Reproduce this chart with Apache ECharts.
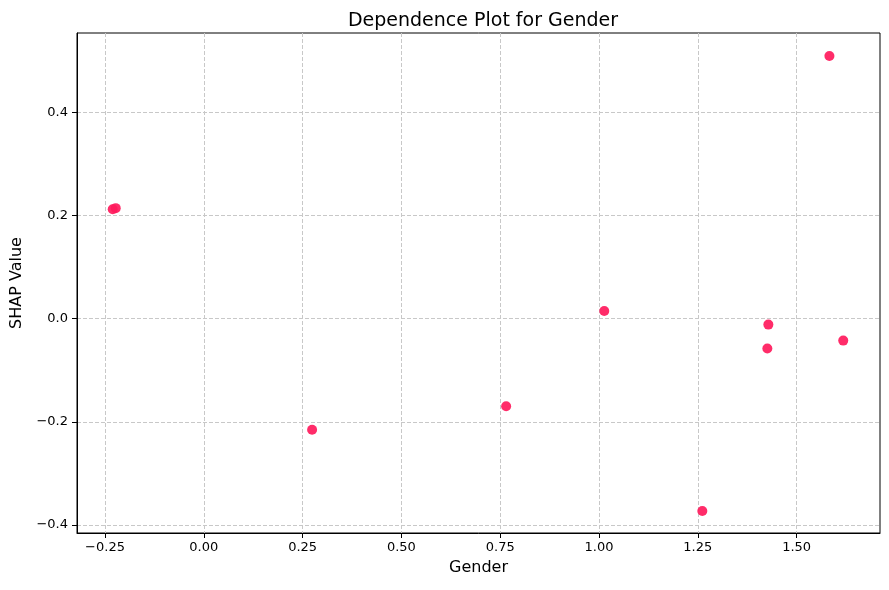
<!DOCTYPE html>
<html>
<head>
<meta charset="utf-8">
<script src="https://cdn.jsdelivr.net/npm/echarts@6/dist/echarts.min.js"></script>
<style>
  html, body { margin: 0; padding: 0; background: #fff; }
  #chart { width: 889px; height: 590px; }
</style>
</head>
<body>
<div id="chart"></div>
<script>
// values
var genderX = [-0.2305, -0.2229, 0.274, 0.765, 1.0133, 1.2614, 1.4259, 1.4285, 1.583, 1.618];
var shapY = [0.212, 0.214, -0.2155, -0.170, 0.0148, -0.3728, -0.058, -0.0117, 0.5087, -0.0427];
var xTicks = [-0.25, 0, 0.25, 0.5, 0.75, 1.0, 1.25, 1.5];
var yTicks = [-0.4, -0.2, 0, 0.2, 0.4];

var pts = [];
for (var i = 0; i < genderX.length; i++) {
    pts.push([genderX[i], shapY[i]]);
}

function fmt(v, d) {
    return v.toFixed(d).replace('-', '\u2212');
}

var font = 'DejaVu Sans';
var chart = echarts.init(document.getElementById('chart'));

var option = {
    backgroundColor: '#fff',
    animation: false,
    title: {
        text: 'Dependence Plot for Gender',
        left: 478,
        textAlign: 'center',
        top: 7,
        textStyle: {fontFamily: font, fontSize: 19, fontWeight: 'normal', color: '#000'}
    },
    grid: {
        left: 77, right: 9, top: 33, bottom: 57,
        show: true, borderColor: '#000', borderWidth: 1,
        containLabel: false
    },
    xAxis: {
        type: 'value',
        min: -0.3209, max: 1.711,
        name: 'Gender',
        nameLocation: 'middle',
        nameGap: 27,
        nameTextStyle: {fontFamily: font, fontSize: 16, color: '#000'},
        axisLine: {show: true, onZero: false, lineStyle: {color: '#000', width: 1}},
        axisTick: {show: true, inside: false, length: 5, customValues: xTicks, lineStyle: {color: '#000'}},
        axisLabel: {
            customValues: xTicks, margin: 8,
            fontFamily: font, fontSize: 13, color: '#000',
            formatter: function (v) { return fmt(v, 2); }
        },
        splitLine: {show: true, lineStyle: {color: '#c8c8c8', type: [4, 2], width: 1}}
    },
    yAxis: {
        type: 'value',
        min: -0.4155, max: 0.5534,
        name: 'SHAP Value',
        nameLocation: 'middle',
        nameGap: 52,
        nameTextStyle: {fontFamily: font, fontSize: 16, color: '#000'},
        axisLine: {show: true, onZero: false, lineStyle: {color: '#000', width: 1}},
        axisTick: {show: true, inside: false, length: 5, customValues: yTicks, lineStyle: {color: '#000'}},
        axisLabel: {
            customValues: yTicks, margin: 9,
            fontFamily: font, fontSize: 13, color: '#000',
            formatter: function (v) { return fmt(v, 1); }
        },
        splitLine: {show: true, lineStyle: {color: '#c8c8c8', type: [4, 2], width: 1}}
    },
    series: [{
        type: 'scatter',
        data: pts,
        symbolSize: 10,
        itemStyle: {color: '#ff1a5c', opacity: 0.92}
    }]
};
chart.setOption(option);
</script>
</body>
</html>
